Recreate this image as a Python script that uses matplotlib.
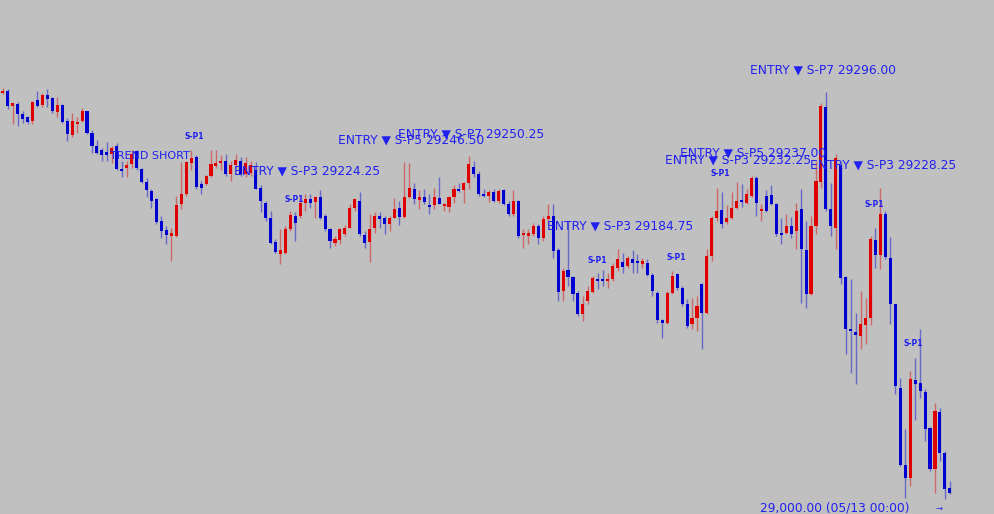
import matplotlib.pyplot as plt
import numpy as np

# OHLC (one candle per bar, left to right)
opens = [29280.25, 29281, 29270.25, 29271.75, 29264.5, 29262.25, 29259.5, 29274.5, 29271, 29278,
         29276, 29266, 29271, 29259.5, 29249.5, 29258, 29259.5, 29266.75, 29251.5, 29242.25,
         29238.75, 29237.25, 29236, 29242.25, 29225.25, 29226, 29228.75, 29238, 29225.25, 29216,
         29209.5, 29203.75, 29188.75, 29182.25, 29178, 29178, 29200.75, 29208, 29229.5, 29233.75,
         29214.5, 29214.5, 29220.75, 29228, 29229.5, 29231, 29222.25, 29228, 29231.5, 29222.25,
         29223, 29224.5, 29212.25, 29201.5, 29190.75, 29173.75, 29165, 29165.75, 29183, 29192.25,
         29192.25, 29201.5, 29203.75, 29202.25, 29205.25, 29192.25, 29183, 29173, 29175, 29179.5,
         29183.75, 29198, 29203, 29178.75, 29173.75, 29183.75, 29192.25, 29190.75, 29186.5, 29190.75,
         29198, 29191.5, 29205.25, 29211, 29204.25, 29205.25, 29200, 29200, 29204.5, 29199.75,
         29198.75, 29205.25, 29211.5, 29210.25, 29215.25, 29227.25, 29222.25, 29208, 29206, 29208.75,
         29203, 29210.25, 29200.75, 29193.75, 29203, 29178.75, 29178.5, 29179.5, 29185, 29176.5,
         29190, 29192.25, 29168, 29138.75, 29153.75, 29148.75, 29137.25, 29122.25, 29131.5, 29138,
         29147.25, 29147.25, 29145.75, 29147.25, 29155, 29159.5, 29156.5, 29161.5, 29159.5, 29158,
         29158.75, 29150, 29137.25, 29118, 29115.75, 29137.25, 29150.75, 29140.75, 29129.25, 29115,
         29119.25, 29143.75, 29123, 29163.75, 29190.75, 29196.5, 29188, 29190.75, 29198, 29203,
         29201.5, 29206.5, 29218.75, 29195.25, 29206.5, 29207.25, 29200.75, 29179.5, 29180, 29185,
         29181.5, 29197.25, 29168, 29136.5, 29184.5, 29216.5, 29269.5, 29197.25, 29183.75, 29228,
         29148.75, 29111.5, 29109.25, 29106.5, 29114.25, 29119.25, 29175, 29164.5, 29193.75, 29162.25,
         29129.25, 29069.25, 29014.25, 29005, 29075, 29073, 29066.5, 29040.75, 29011.5, 29052,
         29022.75, 28997.75]
highs = [29283, 29282.25, 29272.25, 29273, 29266.75, 29263, 29273.75, 29281, 29279.5, 29282.25,
         29276.75, 29276.75, 29271.75, 29261.75, 29265.25, 29262.25, 29268.75, 29266.75, 29253, 29246.5,
         29240.25, 29244.5, 29242.25, 29243.75, 29231.5, 29231.5, 29238.75, 29238.75, 29226.5, 29218.75,
         29211.5, 29204.5, 29192.25, 29185, 29183.75, 29206.5, 29230.25, 29231.5, 29238.75, 29235.25,
         29217.25, 29221.5, 29238.75, 29238.75, 29235.25, 29236.5, 29231.5, 29236.5, 29233.75, 29233.75,
         29231.5, 29230.25, 29213.75, 29203, 29195.75, 29175.75, 29183, 29184.5, 29195.75, 29194.5,
         29206.5, 29208, 29208, 29206, 29210.25, 29193.75, 29183.75, 29178, 29183.75, 29185.75,
         29200.75, 29204.5, 29208.75, 29181.5, 29193.75, 29194.5, 29194.5, 29192.25, 29192.25, 29204.5,
         29203, 29230.25, 29229.5, 29215.25, 29210.25, 29211, 29208, 29212.25, 29219.5, 29201.5,
         29206, 29213.75, 29215.25, 29216, 29234.5, 29231.5, 29223.75, 29211, 29210.25, 29211,
         29211, 29211.5, 29203, 29210.25, 29203.25, 29183, 29183, 29187.25, 29186.5, 29192.25,
         29200.75, 29200.75, 29169.5, 29155, 29188.75, 29149.5, 29138.75, 29135, 29142.25, 29149.5,
         29151.5, 29153.75, 29151.5, 29158.75, 29168.75, 29165.75, 29163.75, 29168, 29165, 29162.25,
         29161.5, 29151.5, 29138.75, 29118.75, 29138.75, 29153, 29151.5, 29142.25, 29133, 29133.75,
         29135, 29144.5, 29168.75, 29192.25, 29212.25, 29208.75, 29199.5, 29208.75, 29216, 29214.5,
         29211.5, 29220.75, 29220.25, 29200.75, 29210.25, 29213.75, 29201.5, 29190.75, 29193.75, 29191.5,
         29201.5, 29211.5, 29188.75, 29192.25, 29231.5, 29272.25, 29280.25, 29215.25, 29236.5, 29229.5,
         29149.5, 29147.25, 29123, 29138.75, 29133.75, 29178, 29183.75, 29212.25, 29195.75, 29177.25,
         29129.5, 29076.5, 29040, 29081.5, 29090.75, 29111.5, 29068.5, 29041.5, 29058.5, 29055,
         29024.25, 29002.75]
lows = [29278.75, 29268, 29257.25, 29256, 29258, 29257.25, 29257.25, 29269.5, 29269.5, 29269.5,
        29265.25, 29262.25, 29258, 29245.25, 29248, 29251.5, 29258.75, 29250.5, 29237.25, 29236.5,
        29231.5, 29231.5, 29229.5, 29224.5, 29219.5, 29219.5, 29226, 29224.5, 29215.25, 29205.25,
        29198, 29186.5, 29176.5, 29172.25, 29160, 29177.25, 29197.25, 29206.5, 29224.5, 29211,
        29208, 29213.75, 29219.5, 29226.5, 29224.5, 29220.75, 29217.25, 29226.5, 29220.75, 29219.5,
        29220.75, 29211, 29194.5, 29188.75, 29172.25, 29165.75, 29158, 29165, 29181.5, 29174.5,
        29190.75, 29195.75, 29198, 29190.75, 29190, 29181.5, 29169.5, 29170.75, 29172.25, 29178,
        29183.25, 29195.75, 29178, 29169.5, 29159.5, 29180, 29183.75, 29179.5, 29181.5, 29190.25,
        29185.75, 29190.75, 29204.5, 29200.75, 29197.25, 29200.75, 29193.75, 29197.25, 29200.5, 29195.75,
        29194.5, 29201.5, 29208.75, 29201.5, 29211.5, 29219.5, 29206.5, 29205.25, 29202.25, 29202.25,
        29201.5, 29199.5, 29192.25, 29192.25, 29176.5, 29169.5, 29172.25, 29178, 29172.25, 29174.5,
        29186.5, 29162.25, 29131.5, 29131.5, 29142.25, 29131.5, 29120.75, 29117.25, 29129.25, 29137.25,
        29140, 29142.25, 29140.75, 29145.75, 29153, 29151.5, 29155, 29151.5, 29151.5, 29155,
        29149.5, 29135, 29115.75, 29105, 29115, 29136.5, 29139.25, 29128, 29112.25, 29111.5,
        29110, 29097.25, 29122.25, 29160, 29188.75, 29183.75, 29186.5, 29190, 29197.25, 29198.75,
        29200.75, 29205.25, 29192.25, 29188.75, 29194.5, 29199.5, 29178, 29172.25, 29179.5, 29176.5,
        29168.75, 29130, 29126.5, 29135.75, 29179.5, 29212.25, 29195.75, 29178, 29168.75, 29143.75,
        29093.5, 29080, 29072.25, 29097.25, 29100.75, 29114.25, 29155, 29154.5, 29161.5, 29115,
        29065, 29013.5, 28990.75, 28999.25, 29046.5, 29062.25, 29031.5, 29010, 28994.25, 29017,
        28990, 28993.5]
closes = [29281, 29270.25, 29272.25, 29264.5, 29261, 29258.75, 29273, 29270.25, 29278, 29275.25,
          29266.75, 29271, 29258.75, 29250.25, 29259.5, 29258.75, 29266.75, 29251, 29242.25, 29237.25,
          29235.25, 29236, 29240.25, 29225.25, 29224.5, 29228, 29236.5, 29226.5, 29216.5, 29210.25,
          29203, 29188, 29181.5, 29178.75, 29179.5, 29199.5, 29208, 29230.25, 29233, 29213,
          29212.25, 29220.75, 29228.75, 29229.5, 29231, 29222.25, 29228, 29232.25, 29222.25, 29229.5,
          29228, 29211.5, 29203, 29190.75, 29173, 29166.5, 29168, 29183, 29193, 29187.25,
          29201.5, 29203.75, 29201.5, 29205.25, 29190.75, 29183, 29174.5, 29175.75, 29183, 29183.75,
          29198, 29203.75, 29179.5, 29173, 29183, 29192.25, 29190, 29186.5, 29190.75, 29197.25,
          29191.5, 29205.25, 29212.25, 29203.75, 29204.75, 29202.25, 29198.75, 29205.25, 29200.75, 29200.25,
          29205.25, 29211.5, 29209.5, 29215.25, 29228.75, 29222.25, 29208, 29206, 29208.75, 29203,
          29209.5, 29200.75, 29193.75, 29203, 29178, 29179.25, 29179, 29185, 29176.5, 29190,
          29192.25, 29167.25, 29138, 29153, 29148.75, 29136.5, 29122.25, 29129.25, 29138.75, 29148,
          29145.75, 29145.75, 29147.25, 29156.5, 29161.5, 29155.75, 29162.25, 29158.75, 29158.75, 29159.5,
          29150, 29138.75, 29118, 29115.75, 29137.25, 29149.5, 29140.75, 29129.25, 29113.5, 29119.25,
          29128, 29123, 29163.75, 29190.75, 29195.75, 29186.5, 29190.75, 29198, 29203, 29202.25,
          29208, 29218.75, 29201.5, 29197.25, 29195.75, 29200.75, 29179.5, 29178.75, 29185, 29179.5,
          29195.75, 29168.75, 29136.5, 29184.5, 29217.25, 29270.25, 29197.25, 29184.5, 29233, 29148,
          29111.5, 29110, 29107.25, 29115, 29119.25, 29175.75, 29164.5, 29193.75, 29163, 29129.25,
          29070.75, 29014.25, 29005, 29075.75, 29072.25, 29067.25, 29040, 29011.5, 29052.75, 29022.75,
          28997, 28994.25]

# signal labels: (text, candle position of left edge, price)
entry_text = ['ENTRY \u25bc S-P3 29224.25', 'ENTRY \u25bc S-P5 29246.50', 'ENTRY \u25bc S-P7 29250.25',
              'ENTRY \u25bc S-P3 29184.75', 'ENTRY \u25bc S-P5 29237.00', 'ENTRY \u25bc S-P3 29232.25',
              'ENTRY \u25bc S-P7 29296.00', 'ENTRY \u25bc S-P3 29228.25']
entry_x = [46.6, 67.6, 79.7, 109.7, 136.6, 133.5, 150.7, 162.8]
entry_price = [29224.25, 29246.50, 29250.25, 29184.75, 29237.00, 29232.25, 29296.00, 29228.25]

sp1_x = [38.6, 58.7, 119.8, 135.9, 144.6, 175.7, 183.7]
sp1_price = [29248.75, 29203.75, 29160, 29162.25, 29222.25, 29200, 29100.75]

plt.rcParams['font.family'] = ['DejaVu Sans']

bg = '#c0c0c0'
red = '#e00000'
blue = '#0000d0'
txt = '#2020f0'

fig = plt.figure(figsize=(9.94, 5.14), dpi=100)
fig.patch.set_facecolor(bg)
ax = fig.add_axes([0, 0, 1, 1])
ax.set_facecolor(bg)
ax.axis('off')

o = np.array(opens)
h = np.array(highs)
l = np.array(lows)
c = np.array(closes)
idx = np.arange(len(o))
cols = np.where(c > o, red, blue)

# wicks drawn faded, bodies solid on top
ax.vlines(idx, l, h, colors=cols, linewidth=1.0, alpha=0.45)
body = np.maximum(np.abs(c - o), 1.6)
mid = (o + c) / 2
ax.bar(idx, body, bottom=mid - body / 2, width=0.62, color=cols, linewidth=0)

ax.text(21.6, 29235, 'TREND SHORT', color=txt, fontsize=8, ha='left', va='center')
for t, x, p in zip(entry_text, entry_x, entry_price):
    ax.text(x, p, t, color=txt, fontsize=8.8, ha='left', va='center')
for x, p in zip(sp1_x, sp1_price):
    ax.text(x, p, 'S-P1', color=txt, fontsize=5.5, fontweight='bold', ha='center', va='center')

fig.text(760 / 994, 1 - 508 / 514, '29,000.00 (05/13 00:00)', color=txt, fontsize=8.8,
         ha='left', va='center')
fig.text(936 / 994, 1 - 508 / 514, '\u2192', color=txt, fontsize=6, ha='left', va='center')

ax.set_xlim(-0.55, 199.9)
ax.set_ylim(28979.5, 29346)

fig.savefig('out.png', dpi=100, facecolor=bg)
